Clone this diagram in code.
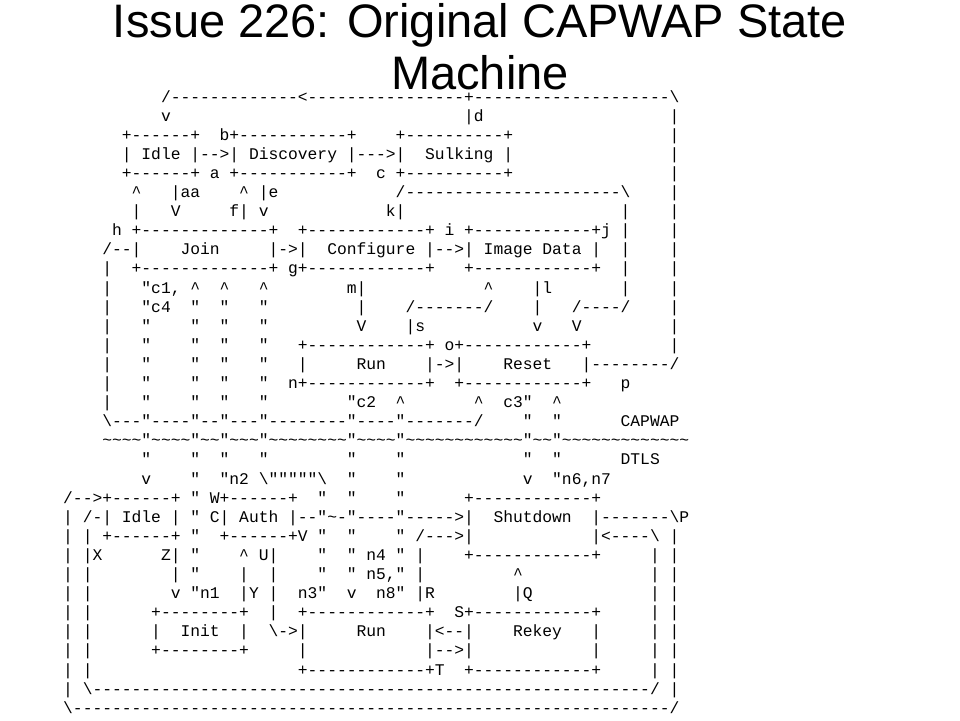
\documentclass[tikz,border=0pt]{standalone}
\usepackage{fontspec}
\setmonofont{Liberation Mono}
\newfontfamily\titlefont{Liberation Sans}
\tikzset{
  al/.style={anchor=base west,inner sep=0pt,font=\ttfamily\fontsize{16.3}{19}\selectfont,text=black},
  ttl/.style={anchor=base,inner sep=0pt,font=\titlefont\fontsize{47}{52}\selectfont,text=black}
}
\newcommand\AL[2]{\node[al] (l#1) at (63pt,{-102pt-(#1-1)*19.1pt}) {#2};}
\newcommand\Bg{\fill[white] (0pt,0pt) rectangle (960pt,-720pt);\useasboundingbox (0pt,0pt) rectangle (960pt,-720pt);}
\newcommand\Title{\node[ttl] (t1) at (480pt,-37pt) {Issue 226: Original CAPWAP State};\node[ttl] (t2) at (480pt,-89pt) {Machine};}
\begin{document}
\catcode`\!=0 !catcode`!\=12 !catcode`!^=12 !catcode`!~=12 !catcode`! =12
!begin{tikzpicture}
!Bg
!Title
!AL{1}{          /-------------<----------------+--------------------\}
!AL{2}{          v                              |d                   |}
!AL{3}{      +------+  b+-----------+    +----------+                |}
!AL{4}{      | Idle |-->| Discovery |--->|  Sulking |                |}
!AL{5}{      +------+ a +-----------+  c +----------+                |}
!AL{6}{       ^   |aa    ^ |e            /----------------------\    |}
!AL{7}{       |   V     f| v            k|                      |    |}
!AL{8}{     h +-------------+  +------------+ i +------------+j |    |}
!AL{9}{    /--|    Join     |->|  Configure |-->| Image Data |  |    |}
!AL{10}{    |  +-------------+ g+------------+   +------------+  |    |}
!AL{11}{    |   "c1, ^  ^   ^        m|            ^    |l       |    |}
!AL{12}{    |   "c4  "  "   "         |    /-------/    |   /----/    |}
!AL{13}{    |   "    "  "   "         V    |s           v   V         |}
!AL{14}{    |   "    "  "   "   +------------+ o+------------+        |}
!AL{15}{    |   "    "  "   "   |     Run    |->|    Reset   |--------/}
!AL{16}{    |   "    "  "   "  n+------------+  +------------+   p}
!AL{17}{    |   "    "  "   "        "c2  ^       ^  c3"  ^}
!AL{18}{    \---"----"--"---"--------"----"-------/    "  "      CAPWAP}
!AL{19}{    ~~~~"~~~~"~~"~~~"~~~~~~~~"~~~~"~~~~~~~~~~~~"~~"~~~~~~~~~~~~~}
!AL{20}{        "    "  "   "        "    "            "  "      DTLS}
!AL{21}{        v    "  "n2 \"""""\  "    "            v  "n6,n7}
!AL{22}{/-->+------+ " W+------+  "  "    "      +------------+}
!AL{23}{| /-| Idle | " C| Auth |--"~-"----"----->|  Shutdown  |-------\P}
!AL{24}{| | +------+ "  +------+V "  "    " /--->|            |<----\ |}
!AL{25}{| |X      Z| "    ^ U|    "  " n4 " |    +------------+     | |}
!AL{26}{| |        | "    |  |    "  " n5," |         ^             | |}
!AL{27}{| |        v "n1  |Y |  n3"  v  n8" |R        |Q            | |}
!AL{28}{| |      +--------+  |  +------------+  S+------------+     | |}
!AL{29}{| |      |  Init  |  \->|     Run    |<--|    Rekey   |     | |}
!AL{30}{| |      +--------+     |            |-->|            |     | |}
!AL{31}{| |                     +------------+T  +------------+     | |}
!AL{32}{| \---------------------------------------------------------/ |}
!AL{33}{\-------------------------------------------------------------/}
!end{tikzpicture}
!end{document}
